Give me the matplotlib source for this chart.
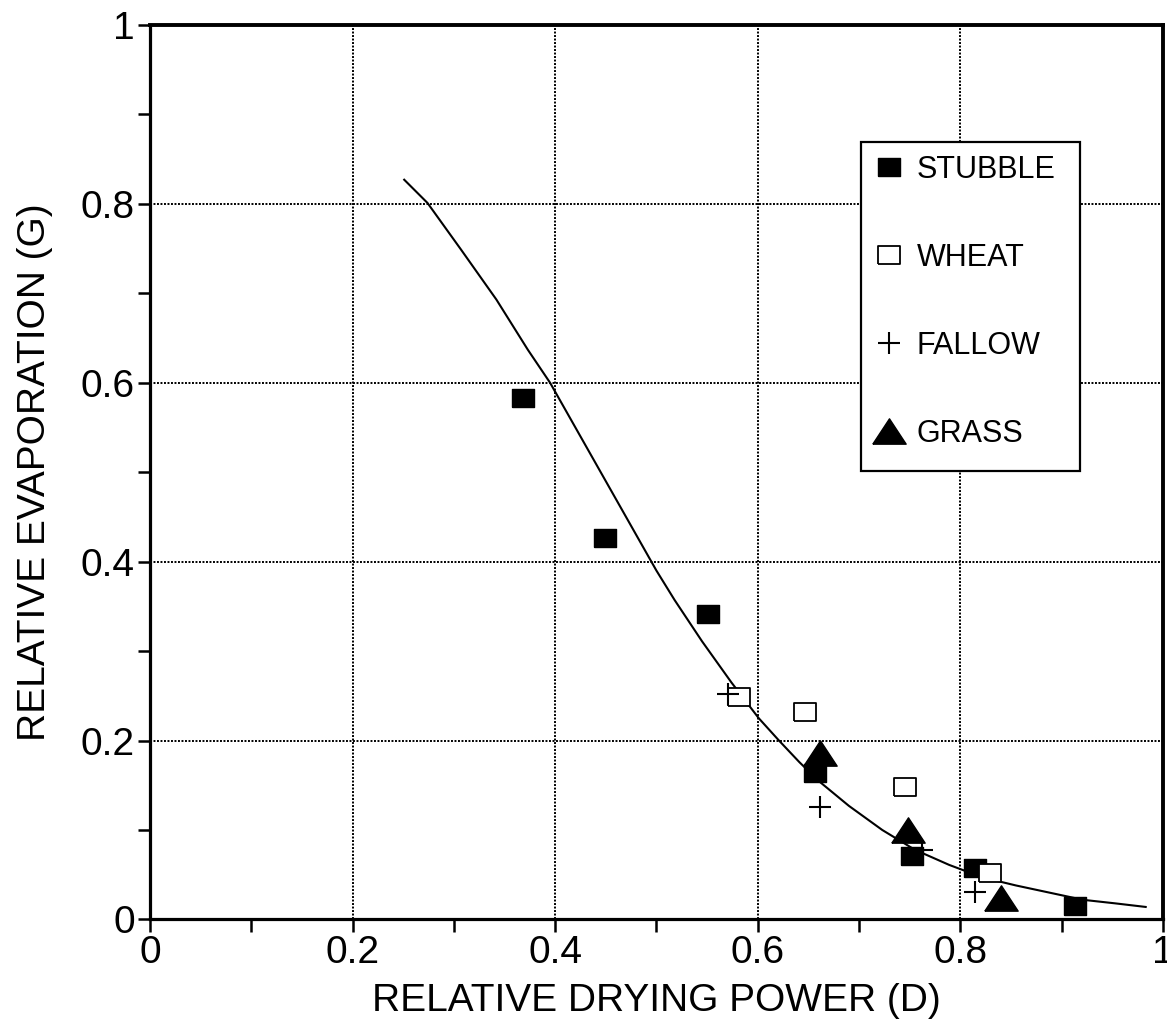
import matplotlib
matplotlib.use("Agg")
import matplotlib.pyplot as plt
from matplotlib import font_manager
from matplotlib.patches import Rectangle
from matplotlib.ticker import MultipleLocator

plt.rcParams['font.family'] = ['Liberation Sans', 'DejaVu Sans']

# --- data ---
stubble_x = [0.368, 0.449, 0.551, 0.657, 0.752, 0.814, 0.913]
stubble_y = [0.583, 0.427, 0.342, 0.164, 0.071, 0.058, 0.015]

wheat_x = [0.582, 0.647, 0.745, 0.829]
wheat_y = [0.249, 0.232, 0.148, 0.052]

fallow_x = [0.571, 0.661, 0.762, 0.814]
fallow_y = [0.252, 0.126, 0.078, 0.031]

grass_x = [0.661, 0.748, 0.840]
grass_y = [0.186, 0.100, 0.024]

curve_x = [0.251, 0.274, 0.307, 0.342, 0.373, 0.395, 0.420, 0.450, 0.475, 0.500,
           0.518, 0.545, 0.574, 0.601, 0.621, 0.641, 0.660, 0.690, 0.723, 0.755,
           0.789, 0.822, 0.855, 0.888, 0.921, 0.953, 0.983]
curve_y = [0.827, 0.801, 0.749, 0.693, 0.637, 0.600, 0.550, 0.490, 0.440, 0.390,
           0.357, 0.311, 0.265, 0.225, 0.200, 0.176, 0.155, 0.127, 0.100, 0.078,
           0.061, 0.047, 0.038, 0.030, 0.022, 0.018, 0.014]

tick_vals = [0, 0.2, 0.4, 0.6, 0.8, 1]
tick_text = ['0', '0.2', '0.4', '0.6', '0.8', '1']

# flattened marker shapes, like the scanned original
rect = [(-1, -0.78), (1, -0.78), (1, 0.78), (-1, 0.78), (-1, -0.78)]
tri = [(-1, -0.76), (1, -0.76), (0, 0.76), (-1, -0.76)]

# the axis titles in the original are a narrow face
names = {f.name for f in font_manager.fontManager.ttflist}
if 'Liberation Sans Narrow' in names:
    lab_font, lab_size = 'Liberation Sans Narrow', 34
else:
    lab_font, lab_size = 'Liberation Sans', 28

fig = plt.figure(figsize=(11.67, 10.23), dpi=100)
ax = fig.add_axes([0.1285, 0.1012, 0.8680, 0.8744])

ax.plot(curve_x, curve_y, color='black', lw=1.5, zorder=2)

ax.plot(stubble_x, stubble_y, ls='none', marker=rect, ms=16, color='black',
        label='STUBBLE', zorder=3)
ax.plot(wheat_x, wheat_y, ls='none', marker=rect, ms=16, mfc='white',
        mec='black', mew=1.3, label='WHEAT', zorder=3)
ax.plot(fallow_x, fallow_y, ls='none', marker='+', ms=16, color='black',
        mew=1.5, label='FALLOW', zorder=3)
ax.plot(grass_x, grass_y, ls='none', marker=tri, ms=24, color='black',
        label='GRASS', zorder=3)

ax.set_xlim(0, 1)
ax.set_ylim(0, 1)
ax.set_xticks(tick_vals)
ax.set_xticklabels(tick_text)
ax.set_yticks(tick_vals)
ax.set_yticklabels(tick_text)
ax.xaxis.set_minor_locator(MultipleLocator(0.1))
ax.yaxis.set_minor_locator(MultipleLocator(0.1))

ax.tick_params(which='both', direction='out', length=9, width=1.8)
ax.tick_params(which='major', labelsize=28, pad=2)
for s in ax.spines.values():
    s.set_linewidth(2.3)
ax.spines['top'].set_linewidth(2.8)
ax.spines['right'].set_linewidth(2.8)

ax.grid(True, which='major', color='black', ls=(0, (1, 0.8)), lw=1.4)

ax.set_xlabel('RELATIVE DRYING POWER (D)', fontsize=lab_size,
              family=[lab_font, 'DejaVu Sans'], labelpad=9)
ax.set_ylabel('RELATIVE EVAPORATION (G)', fontsize=lab_size,
              family=[lab_font, 'DejaVu Sans'], labelpad=20)

# legend: open entries plus a hand-drawn frame
ax.add_patch(Rectangle((0.702, 0.501), 0.216, 0.368, transform=ax.transAxes,
                       fill=True, facecolor='white', edgecolor='black',
                       lw=1.6, zorder=4))
leg = ax.legend(loc='upper left', bbox_to_anchor=(0.716, 0.855),
                fontsize=22, frameon=False, labelspacing=1.9,
                handlelength=0.9, handletextpad=0.45, borderpad=0,
                borderaxespad=0)
leg.set_zorder(5)

fig.savefig('out.png', dpi=100)
